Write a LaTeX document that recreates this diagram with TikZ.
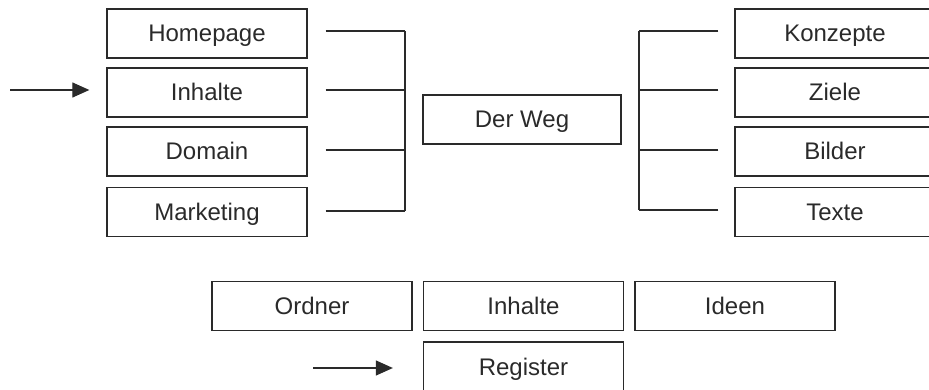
\documentclass[tikz,border=0pt]{standalone}
\usepackage{fontspec}
\setmainfont{Liberation Sans}
\usetikzlibrary{arrows.meta}
\definecolor{ink}{HTML}{2A2A2A}
\begin{document}
\begin{tikzpicture}[x=1pt,y=-1pt,
  box/.style={draw=ink,line width=1.3pt,minimum width=200pt,minimum height=49pt,inner sep=0pt,
    text=ink,font=\fontsize{24}{28}\selectfont,text height=17pt,text depth=0pt},
  conn/.style={draw=ink,line width=1.2pt},
  arr/.style={draw=ink,line width=1.2pt,-{Triangle[length=17pt,width=15pt]}}]
\useasboundingbox (0,0) rectangle (929,390);
\clip (0,0) rectangle (929,390);
% left column
\node[box] (home) at (207,33.5) {Homepage};
\node[box] (inh) at (207,92.5) {Inhalte};
\node[box] (dom) at (207,151.5) {Domain};
\node[box] (mkt) at (207,212) {Marketing};
% center
\node[box,minimum width=198pt] (weg) at (522,119.5) {Der Weg};
% right column
\node[box] (konz) at (835,33.5) {Konzepte};
\node[box] (ziel) at (835,92.5) {Ziele};
\node[box] (bild) at (835,151.5) {Bilder};
\node[box] (text) at (835,212) {Texte};
% bottom row
\node[box] (ord) at (312,306) {Ordner};
\node[box] (inh2) at (523.5,306) {Inhalte};
\node[box] (ideen) at (735,306) {Ideen};
\node[box] (reg) at (523.5,366.5) {Register};
% left bracket
\coordinate (lt) at (405,31);
\coordinate (lb) at (405,211);
\draw[conn] (lt) -- (lb);
\draw[conn] ([xshift=18pt,yshift=2.5pt]home.east) -- (lt);
\draw[conn] ([xshift=18pt,yshift=2.5pt]inh.east) -- ([yshift=2.5pt]inh.east -| lt);
\draw[conn] ([xshift=18pt,yshift=1.5pt]dom.east) -- ([yshift=1.5pt]dom.east -| lt);
\draw[conn] ([xshift=18pt,yshift=1pt]mkt.east) -- (lb);
% right bracket
\coordinate (rt) at (639,31);
\coordinate (rb) at (639,210);
\draw[conn] (rt) -- (rb);
\draw[conn] ([xshift=-16pt,yshift=2.5pt]konz.west) -- (rt);
\draw[conn] ([xshift=-16pt,yshift=2.5pt]ziel.west) -- ([yshift=2.5pt]ziel.west -| rt);
\draw[conn] ([xshift=-16pt,yshift=1.5pt]bild.west) -- ([yshift=1.5pt]bild.west -| rt);
\draw[conn] ([xshift=-16pt,yshift=2pt]text.west) -- (rb);
% arrows
\coordinate (a1) at (10,90);
\draw[arr] (a1) -- ([xshift=-17pt,yshift=2.5pt]inh.west);
\coordinate (a2) at (313,368);
\draw[arr] (a2) -- ([xshift=-30pt,yshift=-1.5pt]reg.west);
\end{tikzpicture}
\end{document}
